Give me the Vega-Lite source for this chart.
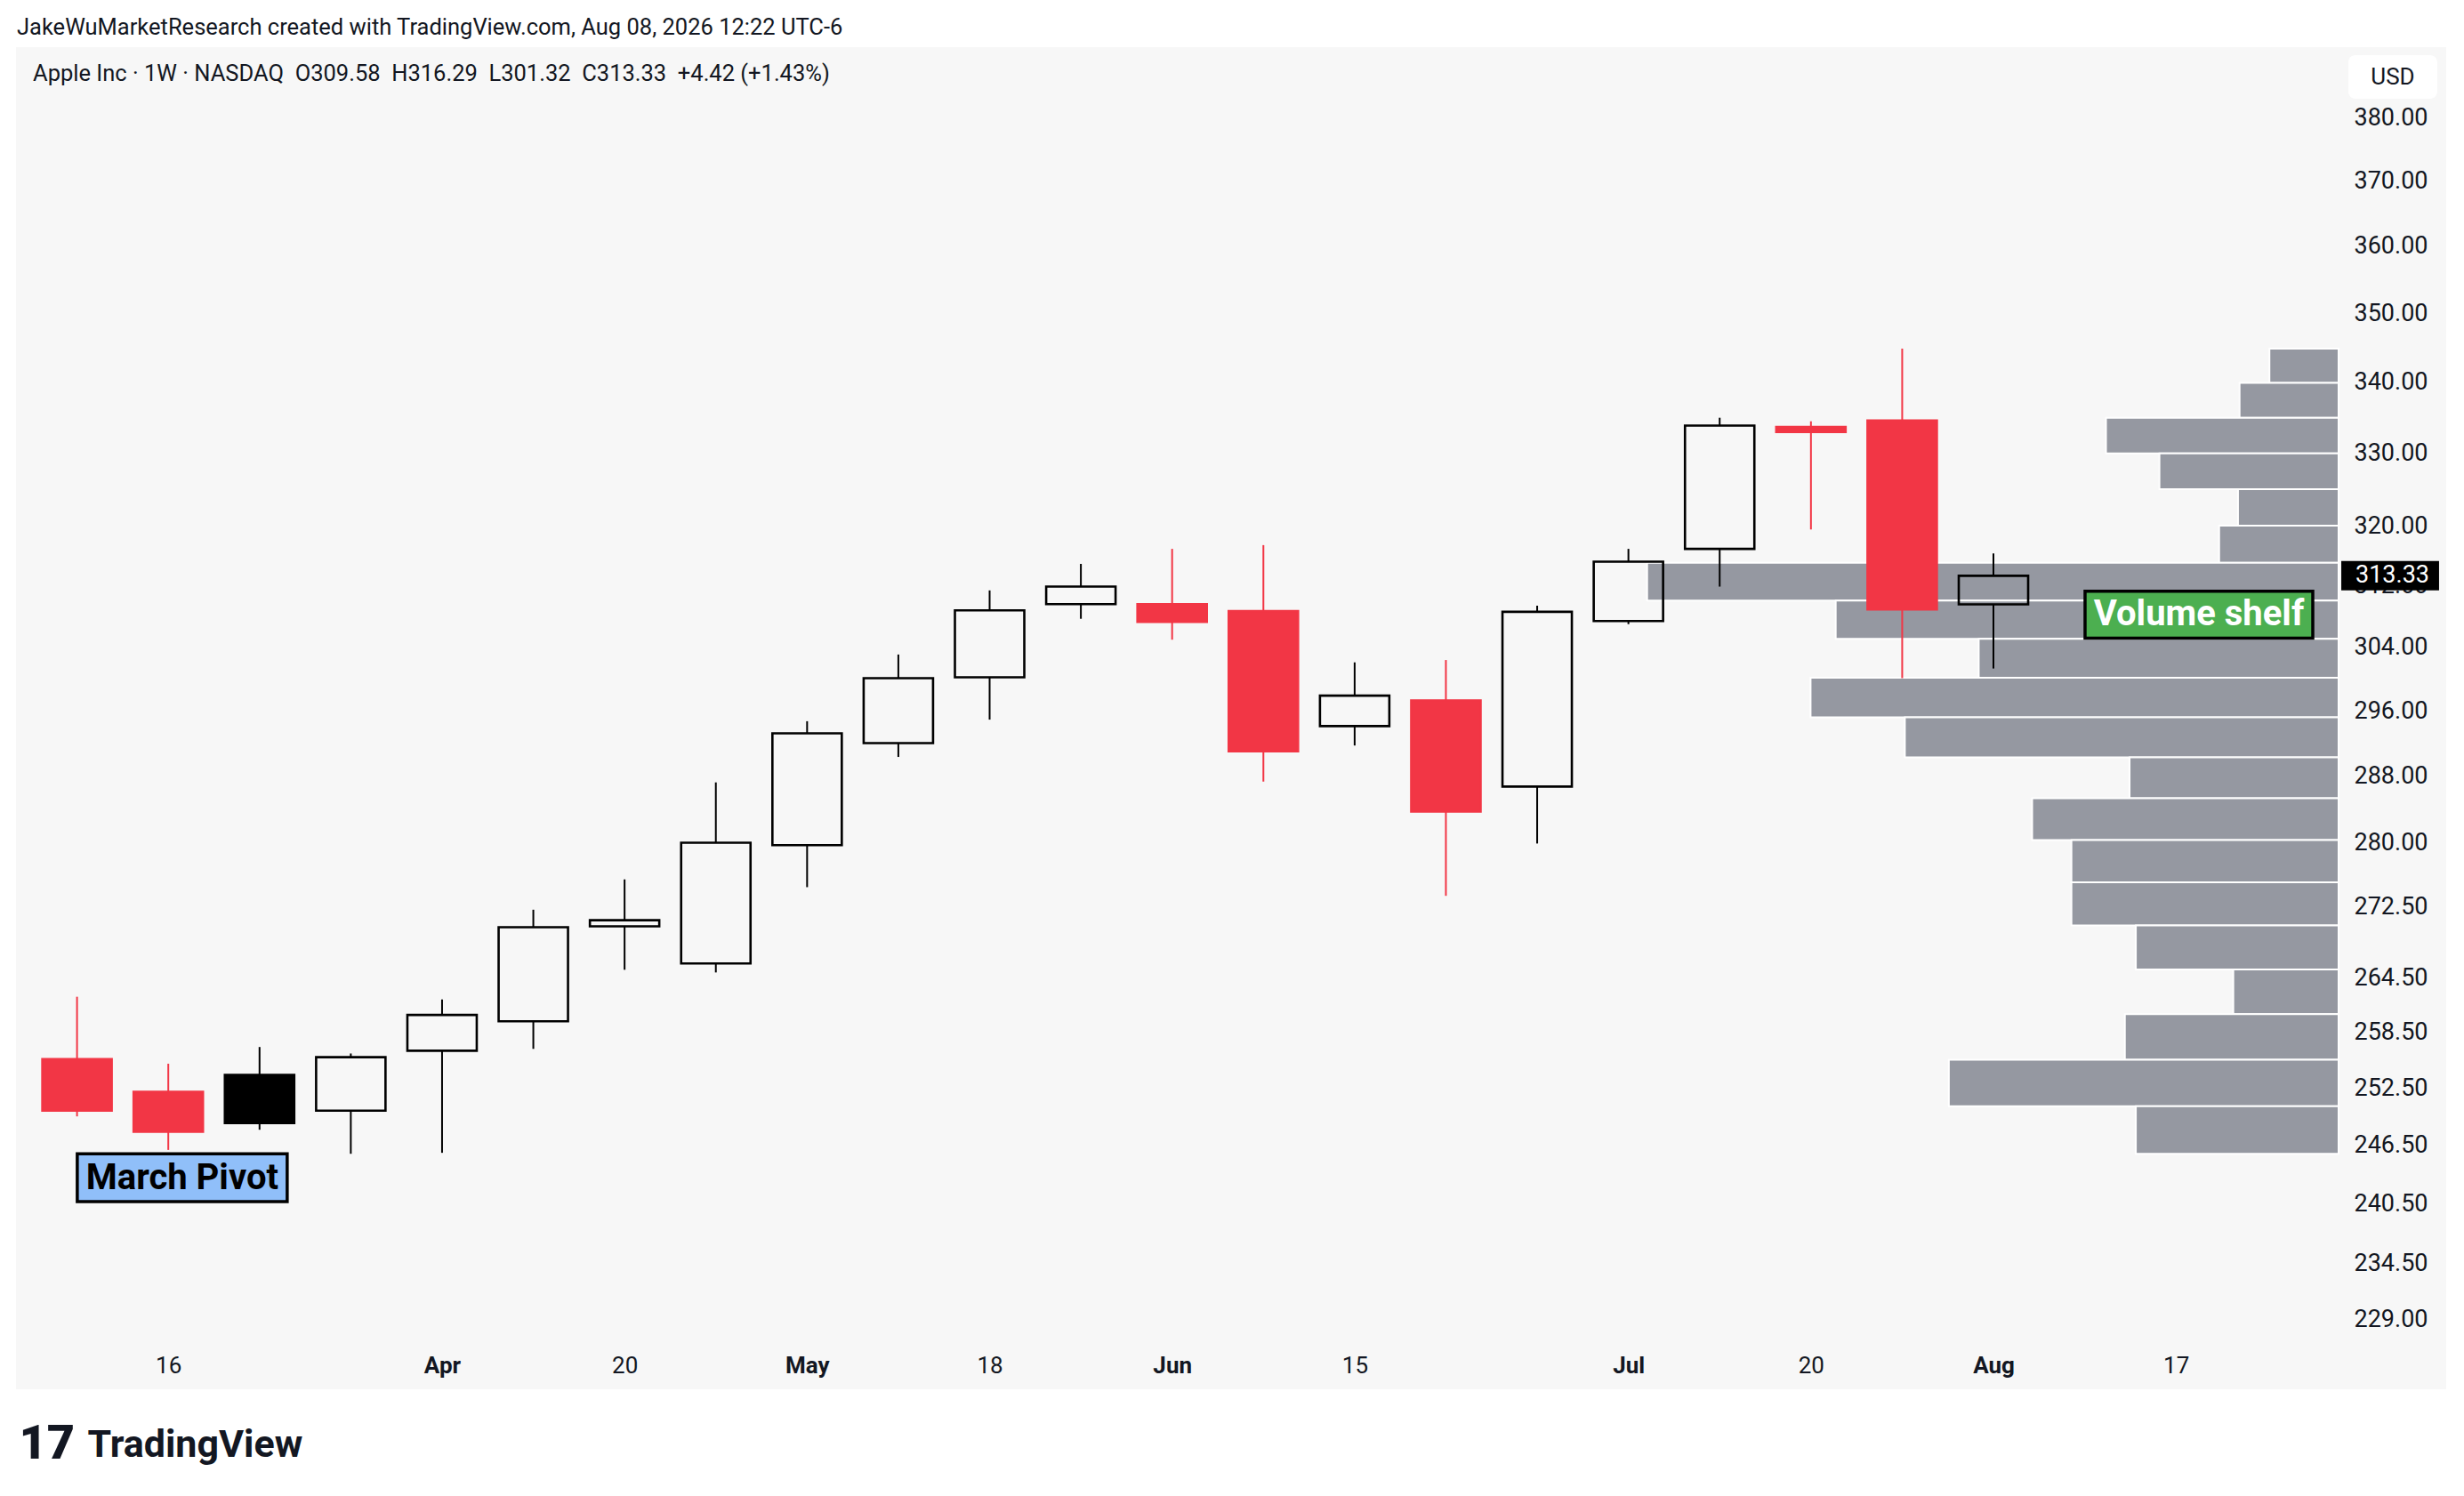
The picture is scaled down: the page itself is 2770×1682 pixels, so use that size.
{
  "$schema": "https://vega.github.io/schema/vega-lite/v6.json",
  "width": 2732,
  "height": 1509,
  "autosize": {"type": "none"},
  "padding": {"left": 18, "top": 53, "right": 20, "bottom": 120},
  "background": "#ffffff",
  "title": {
    "text": "JakeWuMarketResearch created with TradingView.com, Aug 08, 2026 12:22 UTC-6",
    "anchor": "start",
    "frame": "group",
    "orient": "top",
    "offset": 9,
    "dx": 1,
    "font": "Roboto",
    "fontSize": 25.5,
    "fontWeight": "normal",
    "color": "#131722"
  },
  "config": {
    "view": {"fill": "#f7f7f7", "stroke": null},
    "scale": {"continuousPadding": 0},
    "font": "Roboto",
    "axis": {"labelFont": "Roboto", "titleFont": "Roboto", "labelColor": "#131722", "titleColor": "#131722"}
  },
  "datasets": {
    "candles": [
      {"t": "2026-03-09", "o": 255.6, "h": 262.4, "l": 249.5, "c": 250.1},
      {"t": "2026-03-16", "o": 252.1, "h": 255.1, "l": 246.0, "c": 247.9},
      {"t": "2026-03-23", "o": 253.9, "h": 256.9, "l": 248.1, "c": 248.8},
      {"t": "2026-03-30", "o": 250.1, "h": 256.2, "l": 245.6, "c": 255.8},
      {"t": "2026-04-06", "o": 256.5, "h": 262.1, "l": 245.7, "c": 260.4},
      {"t": "2026-04-13", "o": 259.7, "h": 272.2, "l": 256.7, "c": 270.2},
      {"t": "2026-04-20", "o": 270.3, "h": 275.7, "l": 265.4, "c": 271.0},
      {"t": "2026-04-27", "o": 266.1, "h": 287.2, "l": 265.1, "c": 280.0},
      {"t": "2026-05-04", "o": 279.7, "h": 294.7, "l": 274.8, "c": 293.2},
      {"t": "2026-05-11", "o": 292.0, "h": 303.1, "l": 290.3, "c": 300.1},
      {"t": "2026-05-18", "o": 300.2, "h": 311.4, "l": 294.9, "c": 308.8},
      {"t": "2026-05-25", "o": 309.6, "h": 314.9, "l": 307.7, "c": 311.9},
      {"t": "2026-06-01", "o": 309.6, "h": 316.9, "l": 305.0, "c": 307.3},
      {"t": "2026-06-08", "o": 308.7, "h": 317.4, "l": 287.3, "c": 291.0},
      {"t": "2026-06-15", "o": 294.1, "h": 302.1, "l": 291.7, "c": 297.9},
      {"t": "2026-06-22", "o": 297.3, "h": 302.4, "l": 273.8, "c": 283.7},
      {"t": "2026-06-29", "o": 286.7, "h": 309.4, "l": 279.9, "c": 308.6},
      {"t": "2026-07-06", "o": 307.4, "h": 316.9, "l": 307.0, "c": 315.2},
      {"t": "2026-07-13", "o": 316.9, "h": 334.9, "l": 311.9, "c": 333.8},
      {"t": "2026-07-20", "o": 333.6, "h": 334.4, "l": 319.5, "c": 332.9},
      {"t": "2026-07-27", "o": 334.5, "h": 344.8, "l": 300.1, "c": 308.91},
      {"t": "2026-08-03", "o": 309.58, "h": 316.29, "l": 301.32, "c": 313.33}
    ],
    "profile": [
      {"lo": 339.84, "hi": 344.8, "vol": 44},
      {"lo": 334.88, "hi": 339.84, "vol": 63},
      {"lo": 329.92, "hi": 334.88, "vol": 148},
      {"lo": 324.96, "hi": 329.92, "vol": 114},
      {"lo": 320.0, "hi": 324.96, "vol": 64},
      {"lo": 315.04, "hi": 320.0, "vol": 76},
      {"lo": 310.08, "hi": 315.04, "vol": 440},
      {"lo": 305.12, "hi": 310.08, "vol": 320},
      {"lo": 300.16, "hi": 305.12, "vol": 229},
      {"lo": 295.2, "hi": 300.16, "vol": 336},
      {"lo": 290.24, "hi": 295.2, "vol": 276},
      {"lo": 285.28, "hi": 290.24, "vol": 133},
      {"lo": 280.32, "hi": 285.28, "vol": 195},
      {"lo": 275.36, "hi": 280.32, "vol": 170},
      {"lo": 270.4, "hi": 275.36, "vol": 170},
      {"lo": 265.44, "hi": 270.4, "vol": 129},
      {"lo": 260.48, "hi": 265.44, "vol": 67},
      {"lo": 255.52, "hi": 260.48, "vol": 136},
      {"lo": 250.56, "hi": 255.52, "vol": 248},
      {"lo": 245.6, "hi": 250.56, "vol": 129}
    ]
  },
  "resolve": {"scale": {"x": "independent"}},
  "layer": [
    {
      "data": {"name": "profile"},
      "mark": {"type": "rect", "fill": "#9598a1", "stroke": "#ffffff", "strokeWidth": 2},
      "encoding": {
        "x": {"field": "vol", "type": "quantitative", "scale": {"domain": [-68.5, 1478], "reverse": true, "nice": false, "zero": false}, "axis": null},
        "x2": {"datum": 0},
        "y": {
          "field": "lo", "type": "quantitative",
          "scale": {"type": "log", "domain": [222.4, 391.5], "nice": false},
          "axis": {
            "orient": "right", "offset": -121,
            "values": [229, 234.5, 240.5, 246.5, 252.5, 258.5, 264.5, 272.5, 280, 288, 296, 304, 312, 320, 330, 340, 350, 360, 370, 380],
            "format": ".2f", "domain": false, "ticks": false, "tickSize": 0, "grid": false,
            "labelPadding": 17, "labelAlign": "left", "labelBaseline": "middle", "labelFontSize": 27, "labelOverlap": false,
            "title": "17", "titleAngle": 0, "titleX": -2608, "titleY": 1586, "titleFontSize": 54, "titleFontWeight": 900,
            "titleAlign": "left", "titleBaseline": "alphabetic"
          }
        },
        "y2": {"field": "hi"}
      }
    },
    {
      "data": {"name": "candles"},
      "transform": [
        {"window": [{"op": "lag", "field": "c", "as": "pc"}], "sort": [{"field": "t"}]},
        {"calculate": "datum.pc == null ? (datum.c < datum.o ? 'down' : 'up') : (datum.c < datum.pc ? 'down' : 'up')", "as": "dir"},
        {"calculate": "datum.dir + '-' + (datum.c < datum.o ? 'filled' : 'hollow')", "as": "kind"},
        {"calculate": "max(datum.o, datum.c)", "as": "top"},
        {"calculate": "min(datum.o, datum.c)", "as": "bot"}
      ],
      "layer": [
        {
          "mark": {"type": "rule", "strokeWidth": 2},
          "encoding": {
            "x": {
              "field": "t", "type": "temporal",
              "scale": {"type": "utc", "padding": 0, "domain": [{"year": 2026, "month": 3, "date": 4, "hours": 7, "minutes": 40, "utc": true}, {"year": 2026, "month": 9, "date": 6, "hours": 17, "minutes": 30, "utc": true}]},
              "axis": {
                "orient": "bottom", "offset": -47,
                "values": [
                  {"year": 2026, "month": 3, "date": 16, "utc": true},
                  {"year": 2026, "month": 4, "date": 6, "utc": true},
                  {"year": 2026, "month": 4, "date": 20, "utc": true},
                  {"year": 2026, "month": 5, "date": 4, "utc": true},
                  {"year": 2026, "month": 5, "date": 18, "utc": true},
                  {"year": 2026, "month": 6, "date": 1, "utc": true},
                  {"year": 2026, "month": 6, "date": 15, "utc": true},
                  {"year": 2026, "month": 7, "date": 6, "utc": true},
                  {"year": 2026, "month": 7, "date": 20, "utc": true},
                  {"year": 2026, "month": 8, "date": 3, "utc": true},
                  {"year": 2026, "month": 8, "date": 17, "utc": true}
                ],
                "labelExpr": "utcdate(datum.value) <= 7 ? utcFormat(datum.value, '%b') : utcFormat(datum.value, '%-d')",
                "labelFontWeight": {"condition": {"test": "utcdate(datum.value) <= 7", "value": "bold"}, "value": "normal"},
                "domain": false, "ticks": false, "tickSize": 0, "grid": false,
                "labelPadding": 20, "labelBaseline": "middle", "labelAlign": "center", "labelFontSize": 26,
                "labelOverlap": false, "labelFlush": false,
                "title": "TradingView", "titleFontSize": 43, "titleFontWeight": "bold", "titleAnchor": "start",
                "titleAlign": "left", "titleBaseline": "alphabetic", "titleX": 80, "titleY": 122
              }
            },
            "y": {"field": "h", "type": "quantitative", "scale": {"type": "log", "domain": [222.4, 391.5], "nice": false}},
            "y2": {"field": "top"},
            "stroke": {"field": "dir", "type": "nominal", "scale": {"domain": ["up", "down"], "range": ["#000000", "#f23645"]}, "legend": null}
          }
        },
        {
          "mark": {"type": "rule", "strokeWidth": 2},
          "encoding": {
            "x": {"field": "t", "type": "temporal"},
            "y": {"field": "bot", "type": "quantitative"},
            "y2": {"field": "l"},
            "stroke": {"field": "dir", "type": "nominal", "legend": null}
          }
        },
        {
          "mark": {"type": "bar", "size": 78, "strokeWidth": 2.6},
          "encoding": {
            "x": {"field": "t", "type": "temporal"},
            "y": {"field": "o", "type": "quantitative"},
            "y2": {"field": "c"},
            "fill": {"field": "kind", "type": "nominal", "scale": {"domain": ["up-hollow", "up-filled", "down-filled", "down-hollow"], "range": ["transparent", "#000000", "#f23645", "transparent"]}, "legend": null},
            "stroke": {"field": "dir", "type": "nominal", "legend": null}
          }
        },
        {
          "data": {"values": [{}]},
          "mark": {"type": "text", "fontSize": 25.5, "color": "#131722", "align": "left", "baseline": "alphabetic"},
          "encoding": {
            "x": {"datum": {"year": 2026, "month": 3, "date": 5, "hours": 14, "minutes": 50, "utc": true}, "type": "temporal"},
            "y": {"datum": 386.0},
            "text": {"value": "Apple Inc · 1W · NASDAQ\u00a0\u00a0O309.58\u00a0\u00a0H316.29\u00a0\u00a0L301.32\u00a0\u00a0C313.33\u00a0\u00a0+4.42 (+1.43%)"}
          }
        },
        {
          "data": {"values": [{}]},
          "mark": {"type": "bar", "size": 236, "fill": "#90bff9", "stroke": "#000000", "strokeWidth": 3.5},
          "encoding": {
            "x": {"datum": {"year": 2026, "month": 3, "date": 17, "hours": 1, "minutes": 40, "utc": true}, "type": "temporal"},
            "y": {"datum": 245.6},
            "y2": {"datum": 240.7}
          }
        },
        {
          "data": {"values": [{}]},
          "mark": {"type": "text", "fontSize": 40, "fontWeight": "bold", "color": "#000000", "align": "center", "baseline": "middle"},
          "encoding": {
            "x": {"datum": {"year": 2026, "month": 3, "date": 17, "hours": 1, "minutes": 40, "utc": true}, "type": "temporal"},
            "y": {"datum": 243.1},
            "text": {"value": "March Pivot"}
          }
        },
        {
          "data": {"values": [{}]},
          "mark": {"type": "bar", "size": 256, "fill": "#4caf50", "stroke": "#000000", "strokeWidth": 3.5},
          "encoding": {
            "x": {"datum": {"year": 2026, "month": 8, "date": 18, "hours": 18, "minutes": 15, "utc": true}, "type": "temporal"},
            "y": {"datum": 311.3},
            "y2": {"datum": 305.2}
          }
        },
        {
          "data": {"values": [{}]},
          "mark": {"type": "text", "fontSize": 40, "fontWeight": "bold", "color": "#ffffff", "align": "center", "baseline": "middle"},
          "encoding": {
            "x": {"datum": {"year": 2026, "month": 8, "date": 18, "hours": 18, "minutes": 15, "utc": true}, "type": "temporal"},
            "y": {"datum": 308.2},
            "text": {"value": "Volume shelf"}
          }
        },
        {
          "data": {"values": [{}]},
          "mark": {"type": "bar", "size": 100, "fill": "#ffffff", "cornerRadius": 8},
          "encoding": {
            "x": {"datum": {"year": 2026, "month": 9, "date": 2, "hours": 15, "minutes": 10, "utc": true}, "type": "temporal"},
            "y": {"datum": 390.2},
            "y2": {"datum": 383.1}
          }
        },
        {
          "data": {"values": [{}]},
          "mark": {"type": "text", "fontSize": 26, "color": "#131722", "align": "center", "baseline": "middle"},
          "encoding": {
            "x": {"datum": {"year": 2026, "month": 9, "date": 2, "hours": 15, "minutes": 10, "utc": true}, "type": "temporal"},
            "y": {"datum": 386.6},
            "text": {"value": "USD"}
          }
        },
        {
          "data": {"values": [{}]},
          "mark": {"type": "rule", "strokeWidth": 33, "color": "#000000"},
          "encoding": {
            "x": {"datum": {"year": 2026, "month": 8, "date": 29, "hours": 16, "minutes": 20, "utc": true}, "type": "temporal"},
            "x2": {"datum": {"year": 2026, "month": 9, "date": 6, "hours": 4, "minutes": 20, "utc": true}},
            "y": {"datum": 313.33}
          }
        },
        {
          "data": {"values": [{}]},
          "mark": {"type": "text", "fontSize": 27, "color": "#ffffff", "align": "left", "baseline": "middle"},
          "encoding": {
            "x": {"datum": {"year": 2026, "month": 8, "date": 30, "hours": 18, "minutes": 30, "utc": true}, "type": "temporal"},
            "y": {"datum": 313.33},
            "text": {"value": "313.33"}
          }
        }
      ]
    }
  ]
}
